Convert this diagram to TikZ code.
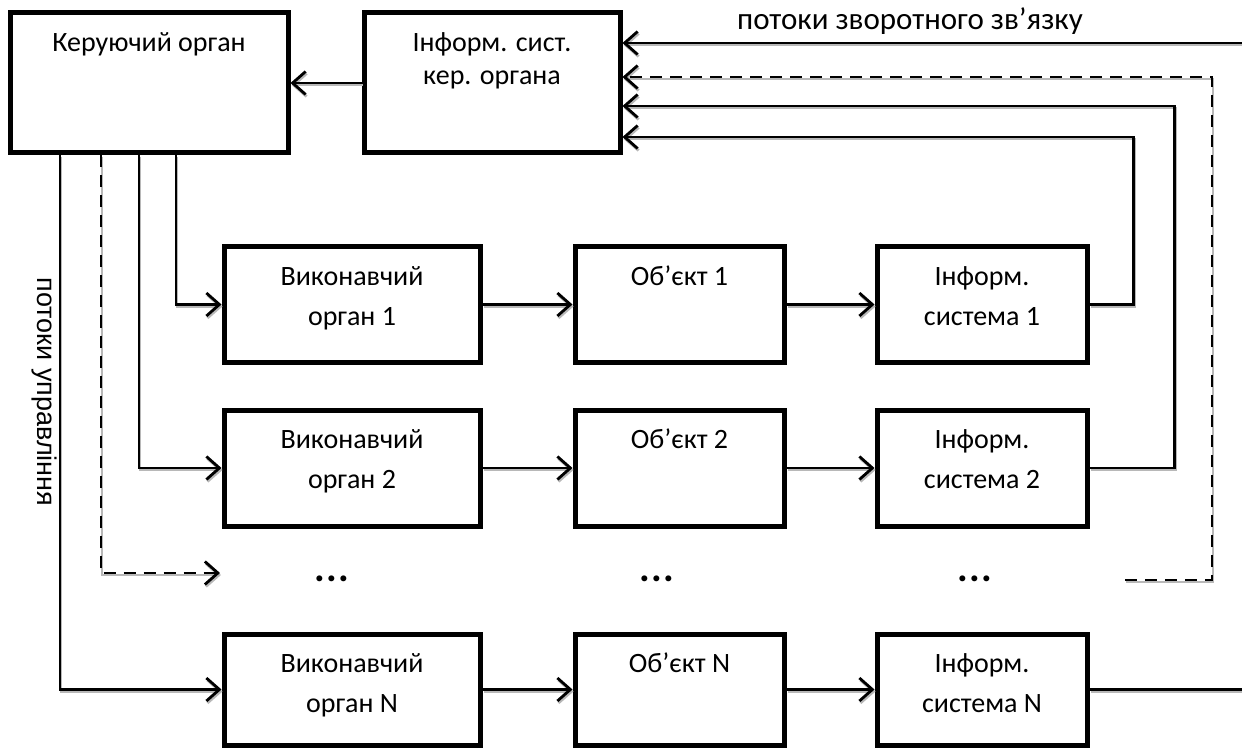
\documentclass[tikz,border=0pt]{standalone}
\usepackage{fontspec}
\setmainfont{Carlito}
\newfontfamily\arialfont{Liberation Sans}
\usetikzlibrary{arrows.meta,calc}
\begin{document}
\begin{tikzpicture}[x=1pt,y=-1pt,
  box/.style={draw, line width=5pt, inner sep=0pt},
  txt/.style={anchor=base, inner sep=0pt, font=\fontsize{28}{33}\selectfont},
  dotsnode/.style={inner sep=0pt, font=\bfseries\fontsize{40}{44}\selectfont},
  conn/.style={line width=2.4pt,
    preaction={draw=black!28, line width=2.2pt, transform canvas={shift={(1pt,-2pt)}}}},
  arr/.style={conn, -{Straight Barb[length=13pt,width=23pt,line width=2.8pt]}},
  dashline/.style={line width=2.8pt, dash pattern=on 12pt off 8pt}
]
\useasboundingbox (0,0) rectangle (1242,751);
\coordinate (redge) at (1242,0);

% top boxes
\node[box, minimum width=278pt, minimum height=140pt] (ko) at (149,83) {};
\node[box, minimum width=256pt, minimum height=140pt] (isk) at (492,83) {};
\node[txt] (ko-t) at ($(ko.north)+(0,41)$) {Керуючий орган};
\node[txt] (isk-t1) at ($(isk.north)+(0,41)$) {Інформ. сист.};
\node[txt] (isk-t2) at ($(isk.north)+(0,74)$) {кер. органа};

% row 1
\node[box, minimum width=256pt, minimum height=115pt] (vo1) at (352,304.5) {};
\node[box, minimum width=209pt, minimum height=115pt] (ob1) at (679.5,304.5) {};
\node[box, minimum width=210pt, minimum height=115pt] (is1) at (982,304.5) {};
\node[txt] (vo1-a) at ($(vo1.north)+(0,41)$) {Виконавчий};
\node[txt] (vo1-b) at ($(vo1.north)+(0,81)$) {орган 1};
\node[txt] (ob1-a) at ($(ob1.north)+(0,41)$) {Об’єкт 1};
\node[txt] (is1-a) at ($(is1.north)+(0,41)$) {Інформ.};
\node[txt] (is1-b) at ($(is1.north)+(0,81)$) {система 1};

% row 2
\node[box, minimum width=256pt, minimum height=116pt] (vo2) at (352,468) {};
\node[box, minimum width=209pt, minimum height=116pt] (ob2) at (679.5,468) {};
\node[box, minimum width=210pt, minimum height=116pt] (is2) at (982,468) {};
\node[txt] (vo2-a) at ($(vo2.north)+(0,41)$) {Виконавчий};
\node[txt] (vo2-b) at ($(vo2.north)+(0,81)$) {орган 2};
\node[txt] (ob2-a) at ($(ob2.north)+(0,41)$) {Об’єкт 2};
\node[txt] (is2-a) at ($(is2.north)+(0,41)$) {Інформ.};
\node[txt] (is2-b) at ($(is2.north)+(0,81)$) {система 2};

% dots row
\node[dotsnode] (d1) at (332,579) {.\kern1pt.\kern1pt.};
\node[dotsnode] (d2) at (657,579) {.\kern1pt.\kern1pt.};
\node[dotsnode] (d3) at (975,579) {.\kern1pt.\kern1pt.};
\coordinate (dtip) at (220,573);
\coordinate (dstart) at (1125,580);

% row N
\node[box, minimum width=256pt, minimum height=111pt] (voN) at (352,689.5) {};
\node[box, minimum width=209pt, minimum height=111pt] (obN) at (679.5,689.5) {};
\node[box, minimum width=210pt, minimum height=111pt] (isN) at (982,689.5) {};
\node[txt] (voN-a) at ($(voN.north)+(0,41)$) {Виконавчий};
\node[txt] (voN-b) at ($(voN.north)+(0,81)$) {орган N};
\node[txt] (obN-a) at ($(obN.north)+(0,41)$) {Об’єкт N};
\node[txt] (isN-a) at ($(isN.north)+(0,41)$) {Інформ.};
\node[txt] (isN-b) at ($(isN.north)+(0,81)$) {система N};

% labels
\node[txt, font=\fontsize{31}{36}\selectfont] (fb-lbl) at (910,30) {потоки зворотного зв’язку};
\node[inner sep=0pt, rotate=-90, font=\arialfont\fontsize{27}{31}\selectfont] (ctl-lbl) at (44,392) {потоки управління};

% connectors
\draw[arr] (isk.west) -- (ko.east);
\draw[arr] ([xshift=168.5pt]ko.south west) |- (vo1.west);
\draw[arr] ([xshift=131.5pt]ko.south west) |- (vo2.west);
\draw[arr, dashline] ([xshift=93.5pt]ko.south west) |- (dtip);
\draw[arr] ([xshift=52.5pt]ko.south west) |- (voN.west);

\draw[arr] (vo1.east) -- (ob1.west);
\draw[arr] (ob1.east) -- (is1.west);
\draw[arr] (vo2.east) -- (ob2.west);
\draw[arr] (ob2.east) -- (is2.west);
\draw[arr] (voN.east) -- (obN.west);
\draw[arr] (obN.east) -- (isN.west);

\coordinate (fbtop) at ([yshift=40pt]isk.east);
\draw[arr] (fbtop -| redge) -- (fbtop);
\draw[arr, dashline] (dstart) -- ++(87,0) |- ([yshift=6pt]isk.east);
\draw[arr] (is2.east) -- ++(85,0) |- ([yshift=-23pt]isk.east);
\draw[arr] (is1.east) -- ++(44,0) |- ([yshift=-54pt]isk.east);
\draw[conn] (isN.east) -- (isN.east -| redge);
\end{tikzpicture}
\end{document}
